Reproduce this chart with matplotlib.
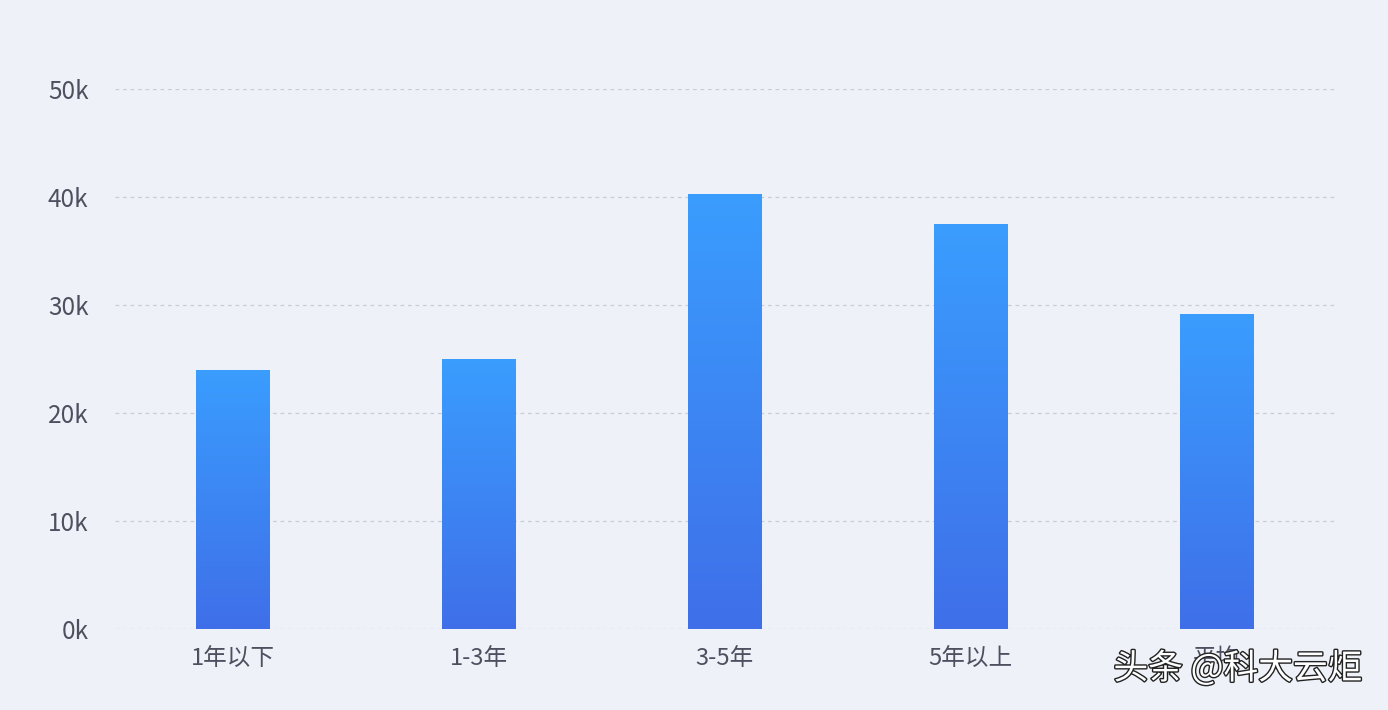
import matplotlib
matplotlib.use('Agg')
import matplotlib.pyplot as plt
import matplotlib.patheffects as pe
from matplotlib.colors import LinearSegmentedColormap
import numpy as np

plt.rcParams['font.family'] = ['Noto Sans CJK SC', 'DejaVu Sans']

categories = ['1年以下', '1-3年', '3-5年', '5年以上', '平均']
salary = [24000, 25000, 40300, 37500, 29200]
yticks = [0, 10000, 20000, 30000, 40000, 50000]
ytick_labels = ['0k', '10k', '20k', '30k', '40k', '50k']

bg_c = '#eef2f8'
text_c = '#4f4f60'
grad = LinearSegmentedColormap.from_list('bar', ['#3f6fe9', '#3a9dfe'])

W, H = 1388, 710
fig = plt.figure(figsize=(W/100, H/100), dpi=100, facecolor=bg_c)
ax = fig.add_axes([115/W, (H-629)/H, (1335-115)/W, (629-89)/H])
ax.set_facecolor(bg_c)

x = np.arange(len(categories))
bars = ax.bar(x, salary, width=0.3, color='none', zorder=3)
g = np.linspace(0, 1, 256).reshape(-1, 1)
for b in bars:
    x0, y0 = b.get_x(), b.get_y()
    im = ax.imshow(g, cmap=grad, origin='lower', aspect='auto', zorder=3,
                   extent=(x0, x0 + b.get_width(), y0, y0 + b.get_height()))
    im.set_clip_path(b)

ax.set_xlim(-0.478, 4.482)
ax.set_ylim(0, 50000)
ax.set_yticks(yticks)
ax.set_yticklabels(ytick_labels)
ax.set_xticks(x)
ax.set_xticklabels(categories)
ax.grid(axis='y', color='#c9ccd6', linestyle=(0, (3, 3)), linewidth=0.9, zorder=0)
ax.tick_params(axis='y', length=0, pad=19, labelsize=17.5, labelcolor=text_c)
ax.tick_params(axis='x', length=0, pad=13, labelsize=17, labelcolor=text_c)
for s in ax.spines.values():
    s.set_visible(False)

# watermark
fig.text(1238/W, 1 - 669/H, '头条 @科大云炬', ha='center', va='center',
         fontsize=25, color='white',
         path_effects=[pe.Stroke(linewidth=2, foreground='#222222'), pe.Normal()])

fig.savefig('out.png', dpi=100, facecolor=bg_c)
